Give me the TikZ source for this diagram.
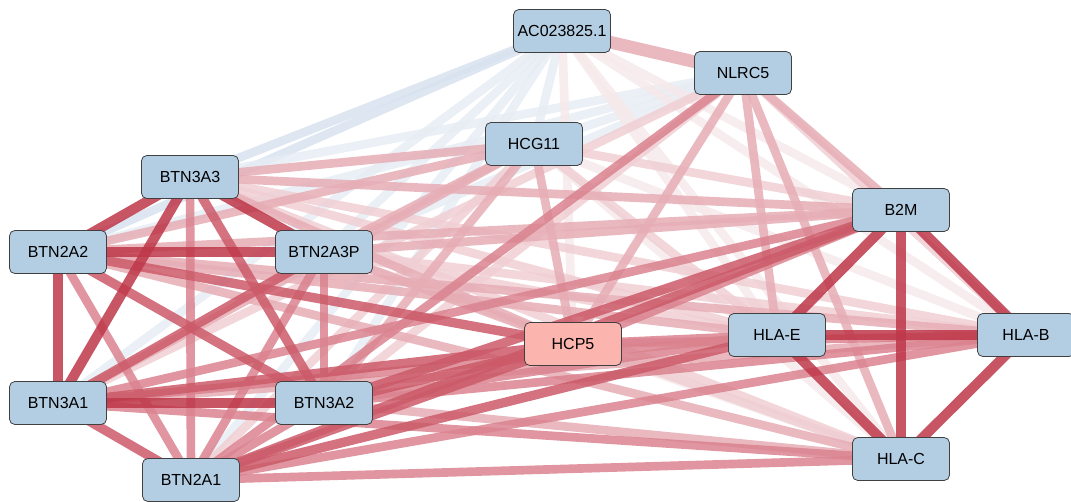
\documentclass[tikz,border=0pt]{standalone}
\usepackage{fontspec}
\setsansfont{Liberation Sans}
\usepackage{tikz}
\usetikzlibrary{shapes,positioning,backgrounds}
\definecolor{genefill}{RGB}{179, 205, 227}
\definecolor{hubfill}{RGB}{251, 180, 174}
\definecolor{rfive}{RGB}{190, 55, 73}
\definecolor{rfour}{RGB}{204, 90, 105}
\definecolor{rthree}{RGB}{218, 131, 143}
\definecolor{rtwo}{RGB}{230, 173, 181}
\definecolor{rone}{RGB}{240, 207, 212}
\definecolor{rzero}{RGB}{246, 233, 235}
\definecolor{bone}{RGB}{231, 237, 244}
\definecolor{btwo}{RGB}{215, 226, 239}
\tikzstyle{gene} = [rectangle, rounded corners=4pt, draw=black!75, line width=0.6pt, fill=genefill, text=black, font=\sffamily\fontsize{12}{14}\selectfont, minimum width=72.75pt, minimum height=32.25pt, inner sep=0pt]
\tikzstyle{hub} = [gene, fill=hubfill]
\tikzstyle{cor5} = [draw=rfive, line width=7.5pt, draw opacity=0.85]
\tikzstyle{cor4} = [draw=rfour, line width=7pt, draw opacity=0.85]
\tikzstyle{cor3} = [draw=rthree, line width=6.5pt, draw opacity=0.85]
\tikzstyle{cor2} = [draw=rtwo, line width=6.5pt, draw opacity=0.85]
\tikzstyle{cor1} = [draw=rone, line width=6.5pt, draw opacity=0.85]
\tikzstyle{cor0} = [draw=rzero, line width=6.5pt, draw opacity=0.85]
\tikzstyle{neg1} = [draw=bone, line width=6.5pt, draw opacity=0.85]
\tikzstyle{neg2} = [draw=btwo, line width=6.5pt, draw opacity=0.85]

\begin{document}
\begin{tikzpicture}[x=0.75pt, y=-0.75pt]
\useasboundingbox (0,0) rectangle (1071,501);

% genes ==================================

% top
\node[gene] (ac) at (562,31) {AC023825.1};
\node[gene] (nlrc) at (743,73) {NLRC5};
\node[gene] (hcg) at (534,144) {HCG11};

% BTN family
\node[gene] (b3a3) at (190,177) {BTN3A3};
\node[gene] (b2a2) at (58,252) {BTN2A2};
\node[gene] (b2a3p) at (324,252) {BTN2A3P};
\node[gene] (b3a1) at (58,403) {BTN3A1};
\node[gene] (b3a2) at (324,403) {BTN3A2};
\node[gene] (b2a1) at (191,480) {BTN2A1};

% HLA family
\node[gene] (b2m) at (901,210) {B2M};
\node[gene] (hlae) at (777,335) {HLA-E};
\node[gene] (hlab) at (1026,335) {HLA-B};
\node[gene] (hlac) at (901,459) {HLA-C};

% hub
\node[hub] (hcp) at (573,344) {HCP5};

%edges
\begin{scope}[on background layer]
% weak and negative
\path[neg2] (ac.center) -- (b3a3.center);
\path[neg2] (ac.center) -- (b2a2.center);
\path[neg1] (ac.center) -- (hcg.center);
\path[neg1] (ac.center) -- (b2a3p.center);
\path[neg1] (ac.center) -- (b3a1.center);
\path[neg1] (ac.center) -- (b3a2.center);
\path[neg1] (ac.center) -- (b2a1.center);
\path[neg1] (nlrc.center) -- (hcg.center);
\path[neg1] (nlrc.center) -- (b3a3.center);
\path[neg1] (nlrc.center) -- (b2a2.center);
\path[neg1] (nlrc.center) -- (b2a3p.center);
\path[cor0] (ac.center) -- (b2m.center);
\path[cor0] (ac.center) -- (hcp.center);
\path[cor0] (ac.center) -- (hlae.center);
\path[cor0] (ac.center) -- (hlab.center);
\path[cor0] (ac.center) -- (hlac.center);
\path[cor0] (hcg.center) -- (hlab.center);
\path[cor0] (hcg.center) -- (hlac.center);
\path[cor0] (hcp.center) -- (hlac.center);

% light
\path[cor1] (nlrc.center) -- (b3a1.center);
\path[cor1] (nlrc.center) -- (b3a2.center);
\path[cor1] (nlrc.center) -- (hlab.center);
\path[cor1] (hcg.center) -- (b2m.center);
\path[cor1] (hcg.center) -- (hlae.center);
\path[cor1] (hcg.center) -- (b2a1.center);
\path[cor1] (b3a3.center) -- (hlae.center);
\path[cor1] (b3a3.center) -- (hlab.center);
\path[cor1] (b3a3.center) -- (hlac.center);
\path[cor1] (b2a3p.center) -- (hlae.center);
\path[cor1] (b2a3p.center) -- (hlab.center);
\path[cor1] (b2a3p.center) -- (hlac.center);

% medium
\path[cor2, line width=9.5pt] (ac.center) -- (nlrc.center);
\path[cor2] (nlrc.center) -- (b2m.center);
\path[cor2] (nlrc.center) -- (hcp.center);
\path[cor2] (nlrc.center) -- (hlae.center);
\path[cor2] (nlrc.center) -- (hlac.center);
\path[cor2] (hcg.center) -- (b3a3.center);
\path[cor2] (hcg.center) -- (b2a2.center);
\path[cor2] (hcg.center) -- (b2a3p.center);
\path[cor2] (hcg.center) -- (hcp.center);
\path[cor2] (hcg.center) -- (b3a1.center);
\path[cor2] (hcg.center) -- (b3a2.center);
\path[cor2] (b3a3.center) -- (b2m.center);
\path[cor2] (b3a3.center) -- (hcp.center);
\path[cor2] (b2m.center) -- (b2a2.center);
\path[cor2] (b2m.center) -- (b2a3p.center);
\path[cor2] (b2a2.center) -- (hlae.center);
\path[cor2] (b2a2.center) -- (hlab.center);
\path[cor2] (b2a2.center) -- (hlac.center);
\path[cor2] (b2a3p.center) -- (hcp.center);
\path[cor2] (b3a2.center) -- (hlac.center);
\path[cor2] (hlab.center) -- (b3a1.center);

% strong
\path[cor3] (nlrc.center) -- (b2a1.center);
\path[cor3] (b3a3.center) -- (b2a1.center);
\path[cor3] (b2m.center) -- (hcp.center);
\path[cor3] (b2m.center) -- (b3a1.center);
\path[cor3] (b2a2.center) -- (b2a1.center);
\path[cor3] (b2a3p.center) -- (b3a2.center);
\path[cor3] (b2a3p.center) -- (b2a1.center);
\path[cor3] (hcp.center) -- (hlae.center);
\path[cor3] (hcp.center) -- (hlab.center);
\path[cor3] (hlae.center) -- (b3a1.center);
\path[cor3] (hlae.center) -- (b3a2.center);
\path[cor3] (hlab.center) -- (b3a2.center);
\path[cor3] (hlab.center) -- (b2a1.center);
\path[cor3] (b3a1.center) -- (hlac.center);
\path[cor3] (b3a2.center) -- (b2a1.center);
\path[cor3] (b2a1.center) -- (hlac.center);

% very strong
\path[cor4] (b3a3.center) -- (b3a2.center);
\path[cor4] (b2m.center) -- (b3a2.center);
\path[cor4] (b2m.center) -- (b2a1.center);
\path[cor4] (b2a2.center) -- (hcp.center);
\path[cor4] (b2a2.center) -- (b3a2.center);
\path[cor4] (b2a3p.center) -- (b3a1.center);
\path[cor4] (hcp.center) -- (b3a1.center);
\path[cor4] (hcp.center) -- (b3a2.center);
\path[cor4] (hcp.center) -- (b2a1.center);
\path[cor4] (hlae.center) -- (b2a1.center);
\path[cor4] (b3a1.center) -- (b2a1.center);

% top
\path[cor5] (b3a3.center) -- (b2a2.center);
\path[cor5] (b3a3.center) -- (b2a3p.center);
\path[cor5] (b3a3.center) -- (b3a1.center);
\path[cor5] (b2a2.center) -- (b2a3p.center);
\path[cor5] (b2a2.center) -- (b3a1.center);
\path[cor5] (b3a1.center) -- (b3a2.center);
\path[cor5] (b2m.center) -- (hlae.center);
\path[cor5] (b2m.center) -- (hlab.center);
\path[cor5] (b2m.center) -- (hlac.center);
\path[cor5] (hlae.center) -- (hlab.center);
\path[cor5] (hlae.center) -- (hlac.center);
\path[cor5] (hlab.center) -- (hlac.center);
\end{scope}

\end{tikzpicture}
\end{document}
